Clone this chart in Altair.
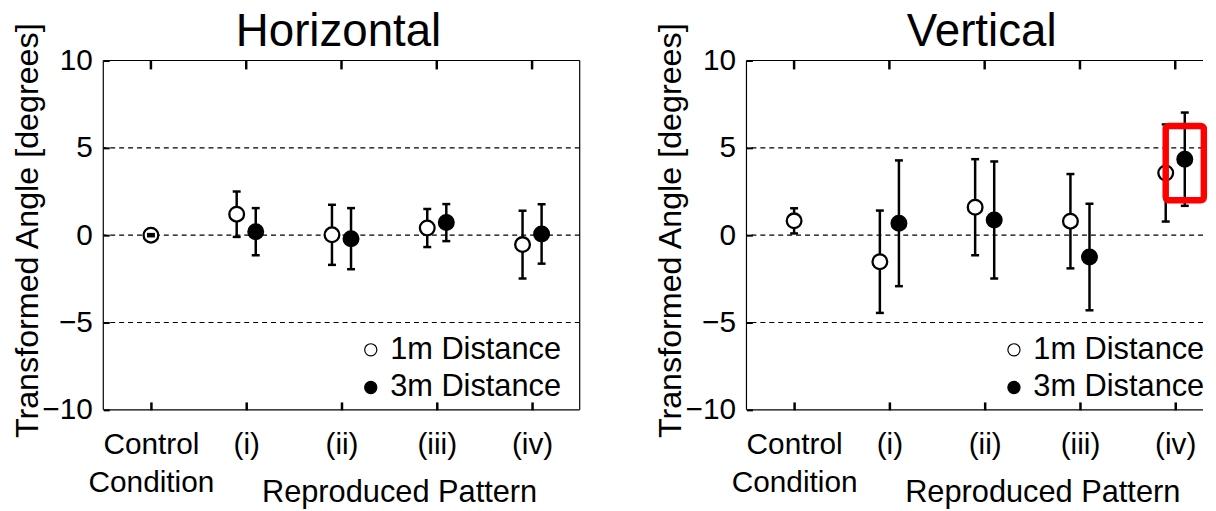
import json
import altair as alt
import pandas as pd

# ---------------- data ----------------
categories = ["Control Condition", "(i)", "(ii)", "(iii)", "(iv)"]
tick_labels = [["Control", "Condition"], "(i)", "(ii)", "(iii)", "(iv)"]
distances = ["1m Distance", "3m Distance"]
panel_titles = ["Horizontal", "Vertical"]

# Horizontal panel: means and error half-widths (degrees)
h_1m_mean = [0.0, 1.2, 0.02, 0.41, -0.54]
h_1m_err = [0.06, 1.3, 1.72, 1.09, 1.94]
h_3m_mean = [None, 0.2, -0.2, 0.72, 0.07]
h_3m_err = [None, 1.35, 1.75, 1.06, 1.7]

# Vertical panel
v_1m_mean = [0.82, -1.52, 1.6, 0.8, 3.56]
v_1m_err = [0.72, 2.93, 2.75, 2.7, 2.78]
v_3m_mean = [None, 0.68, 0.87, -1.25, 4.35]
v_3m_err = [None, 3.6, 3.35, 3.05, 2.67]

y_ticks = [-10, -5, 0, 5, 10]
grid_values = [-5, 0, 5]
highlight = {"x0": 3.9, "x1": 4.3, "y0": 2.0, "y1": 6.25}

# ---------------- helpers ----------------
FONT = "Liberation Sans"
W, H = 480, 352
W_RIGHT = 460            # right panel is cropped by the picture edge
DODGE = 0.1


def build(m1, e1, m3, e3):
    rows = []
    for i in range(len(categories)):
        both = m3[i] is not None
        for d, m, e, off in ((distances[0], m1[i], e1[i], -DODGE),
                             (distances[1], m3[i], e3[i], DODGE)):
            if m is None:
                continue
            rows.append(dict(idx=i, distance=d, x=i + (off if both else 0.0),
                             mean=m, lo=m - e, hi=m + e))
    return pd.DataFrame(rows)


yscale = alt.Scale(domain=[-10, 10], nice=False, zero=False)
label_expr = json.dumps(tick_labels) + "[datum.value]"

XAXIS = alt.Axis(values=list(range(len(categories))), labelExpr=label_expr,
                 offset=-8, tickSize=8, tickWidth=2.5, tickColor="black",
                 domain=False, grid=False, labelPadding=20, labelFontSize=30,
                 labelFont=FONT, labelColor="black", labelLineHeight=38,
                 labelOverlap=False, labelFlush=False,
                 title="Reproduced Pattern", titleFontSize=31, titleFont=FONT,
                 titleFontWeight="normal", titleColor="black",
                 titleX=298, titleY=76, titleBaseline="top", titleAlign="center")
YAXIS = alt.Axis(values=y_ticks, offset=-6, tickSize=6, tickWidth=2,
                 tickColor="black", domain=False, grid=False, labelPadding=11,
                 labelFontSize=30, labelFont=FONT, labelColor="black",
                 title="Transformed Angle [degrees]", titleFontSize=32.5,
                 titleFont=FONT, titleFontWeight="normal", titleColor="black",
                 titleX=-98, titleY=171, titleAngle=270, titleBaseline="top",
                 titleAlign="center")


def panel(df, title, width, hl=None, right_border=True):
    xscale = alt.Scale(domain=[-0.5, -0.5 + width / 96.0], nice=False, zero=False)
    base = alt.Chart(df)
    one = alt.Chart(pd.DataFrame({"k": [0]}))

    grid = alt.Chart(pd.DataFrame({"g": grid_values})).mark_rule(
        color="black", strokeWidth=1.2, strokeDash=[5, 4]
    ).encode(y=alt.Y("g:Q", scale=yscale, axis=YAXIS))

    top_ticks = alt.Chart(pd.DataFrame({"c": list(range(len(categories)))})).mark_rule(
        color="black", strokeWidth=2.5
    ).encode(x=alt.X("c:Q", scale=xscale, axis=XAXIS), y=alt.value(0), y2=alt.value(9))

    # frame of the plot area
    frame = [
        one.mark_rule(color="black", strokeWidth=1.2).encode(
            x=alt.value(0), y=alt.value(0), y2=alt.value(H)),
        one.mark_rule(color="black", strokeWidth=1.2).encode(
            x=alt.value(0), x2=alt.value(width), y=alt.value(0)),
        one.mark_rule(color="black", strokeWidth=1.2).encode(
            x=alt.value(0), x2=alt.value(width), y=alt.value(H)),
    ]
    if right_border:
        frame.append(one.mark_rule(color="black", strokeWidth=1.2).encode(
            x=alt.value(width), y=alt.value(0), y2=alt.value(H)))

    bars = base.mark_rule(color="black", strokeWidth=2.5).encode(
        x=alt.X("x:Q", scale=xscale, axis=XAXIS),
        y=alt.Y("lo:Q", scale=yscale, axis=YAXIS),
        y2="hi:Q",
    )

    points = base.mark_point(shape="circle", filled=True, size=220, stroke="black",
                             strokeWidth=2.3, opacity=1).encode(
        x=alt.X("x:Q", scale=xscale, axis=XAXIS),
        y=alt.Y("mean:Q", scale=yscale, axis=YAXIS),
        fill=alt.Fill("distance:N",
                      scale=alt.Scale(domain=distances, range=["white", "black"]),
                      legend=alt.Legend(orient="none", legendX=254, legendY=276,
                                        title=None, labelFontSize=31, labelFont=FONT,
                                        labelColor="black", labelLimit=400,
                                        symbolType="circle",
                                        symbolSize=150, symbolStrokeColor="black",
                                        symbolStrokeWidth=1.2, labelOffset=4,
                                        rowPadding=6, padding=0)),
    )

    caps = base.transform_fold(["lo", "hi"], as_=["end", "v"]).mark_tick(
        orient="horizontal", size=8, thickness=2.5, color="black", opacity=1
    ).encode(
        x=alt.X("x:Q", scale=xscale, axis=XAXIS),
        y=alt.Y("v:Q", scale=yscale, axis=YAXIS),
    )

    head = alt.Chart(pd.DataFrame({"t": [title]})).mark_text(
        fontSize=46, font=FONT, baseline="top", align="center", color="black"
    ).encode(text="t:N", x=alt.value(W / 2 - 3), y=alt.value(-51))

    layers = [grid, top_ticks] + frame + [bars, points, caps]
    if hl is not None:
        rect = alt.Chart(pd.DataFrame([hl])).mark_rect(
            filled=False, stroke="#ff0000", strokeWidth=6.5, cornerRadius=3
        ).encode(
            x=alt.X("x0:Q", scale=xscale, axis=XAXIS), x2="x1:Q",
            y=alt.Y("y0:Q", scale=yscale, axis=YAXIS), y2="y1:Q",
        )
        layers.append(rect)
    layers.append(head)

    return alt.layer(*layers).properties(width=width, height=H)


left = panel(build(h_1m_mean, h_1m_err, h_3m_mean, h_3m_err), panel_titles[0], W)
right = panel(build(v_1m_mean, v_1m_err, v_3m_mean, v_3m_err), panel_titles[1],
              W_RIGHT, highlight, right_border=False)

chart = alt.hconcat(left, right, spacing=73).resolve_legend(
    fill="independent"
).properties(
    padding={"left": 3, "top": -2, "right": 0, "bottom": 0},
    background="white",
).configure_view(stroke="transparent")

chart.save("out.html", embed_options={"renderer": "svg", "actions": False})
